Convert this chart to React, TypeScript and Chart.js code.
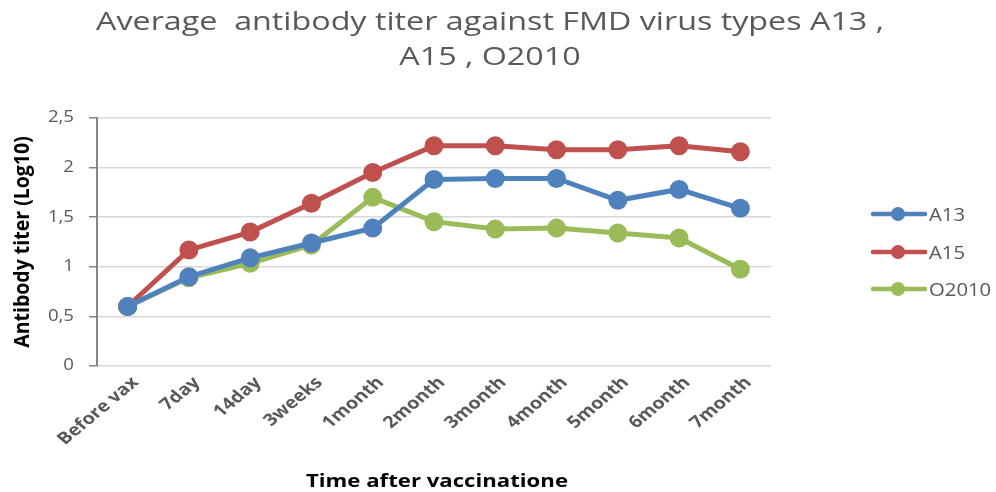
import React, { useEffect, useRef } from "react";
import { Chart, registerables } from "chart.js";

Chart.register(...registerables);

const categories = ["Before vax", "7day", "14day", "3weeks", "1month", "2month", "3month", "4month", "5month", "6month", "7month"];
const a13 = [0.6, 0.9, 1.09, 1.24, 1.39, 1.88, 1.89, 1.89, 1.67, 1.78, 1.59];
const a15 = [0.6, 1.17, 1.35, 1.64, 1.95, 2.22, 2.22, 2.18, 2.18, 2.22, 2.16];
const o2010 = [0.6, 0.89, 1.035, 1.22, 1.70, 1.455, 1.38, 1.39, 1.34, 1.29, 0.975];
const seriesNames = ["A13", "A15", "O2010"];
const seriesColors = ["#4F81BD", "#C0504D", "#9BBB59"];
const titleLines = ["Average  antibody titer against FMD virus types A13 ,", "A15 , O2010"];
const yTitle = "Antibody titer (Log10)";
const xTitle = "Time after vaccinatione";
const FONT = "'Open Sans', 'DejaVu Sans', sans-serif";

function drawText(ctx: any, text: string, x: number, y: number, font: string, color: string, align: string, stretch: number, rot = 0, baseline = "alphabetic") {
  ctx.save();
  ctx.font = font;
  ctx.fillStyle = color;
  ctx.textAlign = align;
  ctx.textBaseline = baseline;
  ctx.translate(x, y);
  ctx.scale(stretch, 1);
  if (rot) ctx.rotate(rot);
  ctx.fillText(text, 0, 0);
  ctx.restore();
}

function stretchFor(ctx: any, text: string, font: string, target: number) {
  ctx.save();
  ctx.font = font;
  const w = ctx.measureText(text).width;
  ctx.restore();
  return target / w;
}

const decorPlugin = {
  id: "decor",
  afterDraw(chart: any) {
    const ctx = chart.ctx;
    const area = chart.chartArea;
    // title
    const tFont = `26px ${FONT}`;
    const ts = stretchFor(ctx, titleLines[0], tFont, 788);
    drawText(ctx, titleLines[0], 490, 30, tFont, "#595959", "center", ts);
    drawText(ctx, titleLines[1], 490, 65, tFont, "#595959", "center", ts);

    // y ticks
    const ys = chart.scales.y;
    ys.ticks.forEach((t: any) => {
      const py = ys.getPixelForValue(t.value);
      const label = String(t.value).replace(".", ",");
      drawText(ctx, label, 74, py, `15.5px ${FONT}`, "#595959", "right", 1.2, 0, "middle");
    });
    // y title
    drawText(ctx, yTitle, 23, (area.top + area.bottom) / 2, `bold 19.5px ${FONT}`, "#000000", "center", 1.05, -Math.PI / 2, "middle");

    // x ticks
    const xs = chart.scales.x;
    categories.forEach((c, i) => {
      const px = xs.getPixelForValue(i);
      drawText(ctx, c, px + 8, area.bottom + 14, `bold 16.5px ${FONT}`, "#595959", "right", 1.2, -Math.PI / 4, "middle");
    });
    // x title
    const xFont = `bold 17px ${FONT}`;
    drawText(ctx, xTitle, 437, 487, xFont, "#000000", "center", stretchFor(ctx, xTitle, xFont, 262));

    // legend
    const ly = [214, 252, 289];
    seriesNames.forEach((name, i) => {
      const y = ly[i];
      ctx.save();
      ctx.strokeStyle = seriesColors[i];
      ctx.lineWidth = 4.5;
      ctx.lineCap = "round";
      ctx.beginPath();
      ctx.moveTo(873, y);
      ctx.lineTo(925, y);
      ctx.stroke();
      ctx.fillStyle = seriesColors[i];
      ctx.beginPath();
      ctx.arc(898, y, 7, 0, Math.PI * 2);
      ctx.fill();
      ctx.restore();
      drawText(ctx, name, 929, y + 6.5, `17.5px ${FONT}`, "#595959", "left", 1.16);
    });
  },
};

export default function App() {
  const ref = useRef<HTMLCanvasElement>(null);
  useEffect(() => {
    document.body.style.margin = "0";
    const datasets = [a13, a15, o2010].map((d, i) => ({
      label: seriesNames[i],
      data: d,
      borderColor: seriesColors[i],
      backgroundColor: seriesColors[i],
      pointBackgroundColor: seriesColors[i],
      pointBorderColor: seriesColors[i],
      borderWidth: 5,
      pointRadius: 7,
      pointHoverRadius: 7,
      tension: 0,
    }));
    const chart = new Chart(ref.current!, {
      type: "line",
      data: { labels: categories, datasets },
      options: {
        animation: false,
        responsive: false,
        layout: { padding: { top: 118, right: 225, left: 0, bottom: 0 } },
        plugins: { legend: { display: false }, title: { display: false }, tooltip: { enabled: false } },
        scales: {
          x: {
            offset: true,
            grid: { display: false },
            border: { display: false },
            ticks: { display: false, autoSkip: false },
            afterFit(scale: any) {
              scale.height = 126;
            },
          },
          y: {
            min: 0,
            max: 2.5,
            grid: { color: "#D9D9D9", lineWidth: 1.5, tickLength: 8, tickColor: "#868686" },
            border: { color: "#868686", width: 2 },
            ticks: { stepSize: 0.5, display: false },
            afterFit(scale: any) {
              scale.width = 97;
            },
          },
        },
      },
      plugins: [decorPlugin],
    });
    return () => chart.destroy();
  }, []);
  return (
    <div style={{ position: "absolute", left: 0, top: 0, width: 996, height: 492 }}>
      <canvas ref={ref} width={996} height={492} style={{ width: 996, height: 492 }} />
    </div>
  );
}
